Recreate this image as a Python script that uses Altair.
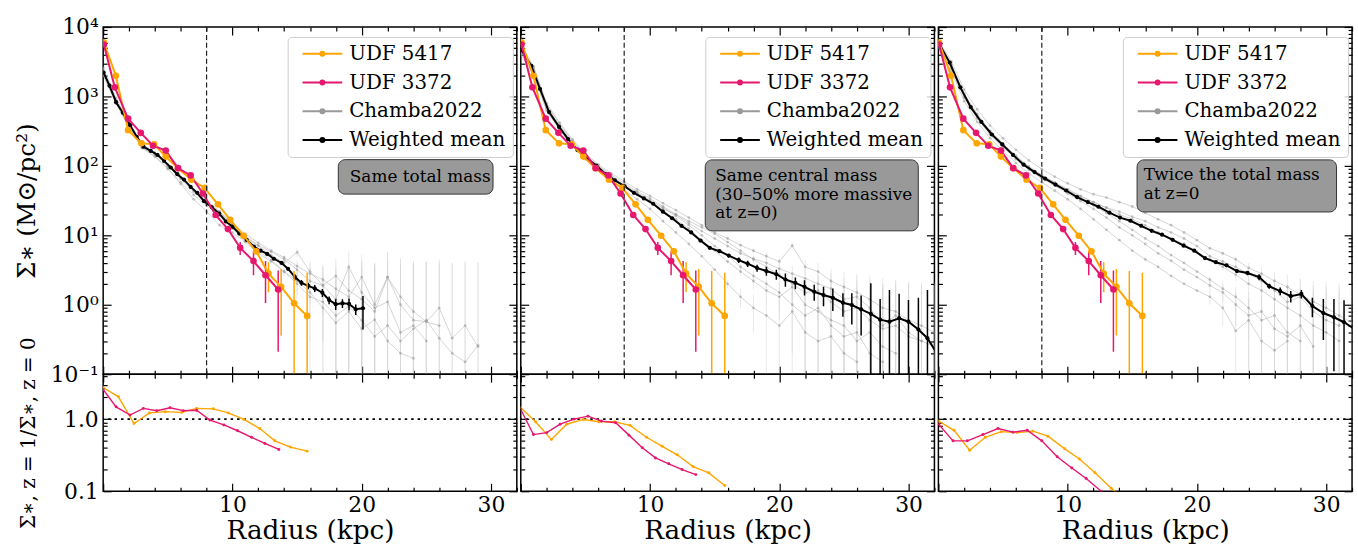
import altair as alt
import pandas as pd

FONT = "DejaVu Serif"
ORANGE = "#FFA500"
PINK = "#E6176F"

SERIES = ["UDF 5417", "UDF 3372", "Chamba2022", "Weighted mean"]
SERIES_COLORS = [ORANGE, PINK, "#999999", "black"]

# ---------------- z=1 galaxies (same in every panel) ----------------
udf5417_r = [0.05, 0.98, 1.93, 2.96, 3.94, 4.84, 5.79, 6.82, 7.85, 8.88, 9.83, 10.86, 11.84, 12.79, 13.77, 14.77, 15.78]
udf5417_s = [6000, 1980, 327, 211, 204, 136, 92.7, 63.3, 48.2, 27.9, 16.7, 9.87, 5.9, 2.81, 1.81, 1.05, 0.69]
udf5417_err = [0, 0, 0, 0, 0, 0, 0, 0, 0, 0, 0, 0.3, 0.6, 1.3, 1.45, 2.0, 2.2]

udf3372_r = [0.05, 0.90, 1.93, 2.91, 3.86, 4.84, 5.79, 6.77, 7.72, 8.70, 9.65, 10.6, 11.63, 12.56, 13.54]
udf3372_s = [5600, 1352, 479, 299, 195, 166, 92.7, 72.9, 40.0, 19.6, 12.3, 6.6, 4.25, 2.66, 1.66]
udf3372_err = [0, 0, 0, 0, 0, 0, 0, 0, 0, 0, 0.5, 1.4, 1.6, 1.6, 1.45]

# ---------------- weighted mean of the z=0 samples ----------------
mean1_r = [0.03, 0.49, 1.0, 1.52, 2.08, 2.6, 3.11, 3.68, 4.2, 4.71, 5.23, 5.74, 6.25, 6.77, 7.28, 7.8, 8.4, 8.98, 9.5, 10.01,
           10.53, 11.1, 11.66, 12.18, 12.69, 13.2, 13.8, 14.3, 14.83, 15.34, 15.86, 16.37, 16.96, 17.48, 17.99, 18.51, 19.02, 19.54, 20.1]
mean1_s = [2213, 1429, 826, 582, 385, 262, 189, 164, 144, 118, 94.8, 76, 63.4, 49.8, 40.9, 31, 25.5, 20.5, 15.8, 13.3,
           10.6, 8.6, 6.9, 6.0, 5.4, 4.6, 4.0, 3.3, 2.5, 2.07, 1.87, 1.72, 1.49, 1.17, 1.02, 1.05, 1.03, 0.86, 0.89]
mean1_err = [0, 0, 0, 0, 0, 0, 0, 0, 0, 0, 0, 0, 0, 0, 0, 0, 0, 0, 0, 0,
             0, 0, 0, 0, 0, 0.2, 0.2, 0.2, 0.25, 0.2, 0.2, 0.2, 0.2, 0.15, 0.18, 0.15, 0.2, 0.15, 0.45]

mean2_r = [0.03, 0.82, 1.49, 2.19, 2.96, 3.66, 4.38, 5.1, 5.84, 6.56, 7.28, 8.03, 8.75, 9.52, 10.24, 10.99, 11.71, 12.43, 13.18,
           13.9, 14.62, 15.37, 16.09, 16.86, 17.55, 18.28, 19.0, 19.77, 20.47, 21.24, 21.95, 22.7, 23.42, 24.14, 24.92, 25.61,
           26.33, 27.08, 27.8, 28.52, 29.27, 29.99, 30.76, 31.46, 32.18]
mean2_s = [4700, 2750, 1280, 596, 364, 243, 169, 129, 101, 76, 62, 50.9, 40.9, 34, 28.5, 21.9, 17.6, 13.7, 11.0,
           8.4, 6.6, 5.9, 5.1, 4.4, 3.9, 3.38, 3.06, 2.75, 2.31, 2.07, 1.81, 1.54, 1.38, 1.26, 1.07, 0.99,
           0.86, 0.74, 0.61, 0.57, 0.64, 0.57, 0.44, 0.33, 0.20]
mean2_err = [0, 0, 0, 0, 0, 0, 0, 0, 0, 0, 0, 0, 0, 0, 0, 0, 0, 0, 0,
             0.3, 0.3, 0.3, 0.3, 0.4, 0.4, 0.4, 0.45, 0.45, 0.5, 0.4, 0.45, 0.4, 0.43, 0.45, 0.4, 0.47,
             0.5, 1.3, 0.6, 1.06, 0.8, 0.6, 0.82, 1.3, 1.0]

mean3_r = [0.02, 0.875, 1.70, 2.50, 3.32, 4.14, 4.94, 5.77, 6.59, 7.44, 8.26, 9.06, 9.88, 10.73, 11.56, 12.38, 13.23, 14.05,
           14.85, 15.68, 16.5, 17.3, 18.12, 18.97, 19.79, 20.62, 21.47, 22.29, 23.09, 23.91, 24.81, 25.59, 26.44, 27.26,
           28.08, 28.93, 29.78, 30.6, 31.38, 32.15]
mean3_s = [5910, 3070, 1352, 702, 429, 283, 204, 144, 104, 81.4, 65.5, 53.8, 44.2, 35.5, 30.1, 25.8, 21.2, 18.0,
           16.2, 13.7, 11.6, 10.2, 8.6, 7.1, 6.0, 4.7, 4.1, 3.7, 3.06, 2.87, 2.5, 1.85, 1.57, 1.33,
           1.43, 0.96, 0.76, 0.66, 0.56, 0.45]
mean3_err = [0, 0, 0, 0, 0, 0, 0, 0, 0, 0, 0, 0, 0, 0, 0, 0, 0, 0,
             0, 0, 0, 0, 0, 0, 0, 0, 0.15, 0.15, 0.2, 0.2, 0.25, 0.15, 0.2, 0.25,
             0.2, 0.3, 0.45, 0.55, 0.6, 0.6]

# ---------------- Chamba2022 individual profiles (radius = 0, 1, 2, ... kpc) ----------------
chamba1 = [
    [2300, 880, 400, 200, 150, 98, 66, 44, 31, 22, 14, 9.5, 7.0, 5.2, 4.0, 5.7, 3.0, 1.9, 2.6, 1.6, 1.2, 0.8, 2.5, 1.0, 0.6, 0.57, 0.9, 0.33, 0.5, 0.25],
    [2100, 800, 370, 185, 140, 92, 55, 33, 22, 14, 11, 8.0, 5.5, 4.2, 3.0, 2.2, 1.5, 0.9, 0.55, 0.8, 0.45, 0.61, 0.3, 0.2, 0.17],
    [2500, 860, 390, 195, 150, 100, 65, 42, 28, 21, 14.5, 9.8, 7.2, 5.8, 4.5, 3.2, 2.2, 1.9, 1.2, 3.5, 1.5, 0.9, 1.1, 0.4, 0.5, 0.3],
    [2000, 780, 360, 180, 135, 90, 58, 38, 27, 19, 12.5, 8.2, 6.0, 4.4, 3.0, 2.0, 1.3, 1.1, 0.7, 0.95, 0.6, 0.35, 0.5, 0.3, 0.45, 0.6, 0.33, 0.2, 0.15, 0.26],
    [2600, 950, 430, 210, 155, 104, 68, 45, 32, 22, 15, 10.5, 7.8, 6.0, 4.8, 3.6, 2.8, 2.3, 1.7, 1.3, 2.5, 1.0, 2.5, 1.3, 0.8, 0.57, 0.5],
]
chamba1_err = [0, 0, 0, 0, 0, 0, 0, 0, 0, 0, 0, 0, 0, 0, 0.4, 0.8, 1.2, 1.6, 2.0, 2.4, 2.8, 3.0, 3.2, 3.4, 3.5, 3.6, 3.6, 3.7, 3.8, 3.8]

chamba2 = [
    [5200, 2600, 800, 420, 240, 150, 105, 78, 60, 46, 37, 29, 23, 18, 14, 11, 9.0, 7.2, 6.0, 5.0, 4.2, 7.1, 3.5, 3.0, 2.2, 1.8, 1.5, 1.2, 0.9, 0.8, 0.6, 0.5, 0.4],
    [4500, 2100, 650, 380, 220, 140, 100, 74, 56, 43, 34, 26, 20, 15, 11.5, 9.0, 7.0, 5.5, 4.6, 4.0, 3.3, 2.8, 2.4, 2.0, 1.7, 1.2, 1.3, 0.9, 0.5, 0.7, 0.4, 0.3],
    [4000, 2000, 620, 330, 190, 125, 88, 62, 45, 33, 24, 16, 11, 7.5, 5.0, 3.2, 2.0, 1.3, 0.9, 0.7, 0.5, 0.8, 0.4, 0.3, 0.35, 0.2, 0.15],
    [4800, 2400, 720, 370, 210, 138, 96, 70, 52, 40, 31, 23, 17, 12.5, 8.5, 6.0, 4.2, 3.0, 2.2, 1.6, 1.3, 1.8, 1.0, 0.8, 0.6, 0.5, 0.3, 0.4, 0.25, 0.2],
    [5600, 2700, 760, 400, 230, 145, 98, 70, 53, 41, 32, 25, 19, 14, 10, 7.0, 5.2, 3.5, 2.6, 2.0, 1.5, 1.0, 0.7, 0.9, 0.5, 0.35, 0.4, 0.2, 0.15],
    [4200, 2200, 690, 350, 200, 130, 92, 66, 50, 39, 30, 24, 20, 16, 13, 10.5, 8.0, 6.0, 4.5, 3.5, 2.7, 2.0, 1.5, 1.6, 1.1, 0.8, 0.9, 0.6, 0.45, 0.5, 0.35, 0.3, 0.25],
]
chamba2_err = [0, 0, 0, 0, 0, 0, 0, 0, 0, 0, 0, 0, 0, 0, 0, 0, 0.3, 0.4, 0.5, 0.6, 0.7, 0.8, 0.9, 1.0, 1.1, 1.2, 1.3, 1.4, 1.5, 1.5, 1.6, 1.6, 1.7]

chamba3 = [
    [6500, 3200, 1250, 650, 380, 250, 170, 120, 90, 70, 56, 46, 39, 35, 30, 26, 21, 17, 14, 11, 8.5, 6.5, 5.5, 4.5, 3.4, 2.8, 2.2, 1.8, 1.4, 1.1, 0.9, 0.7, 0.55],
    [5000, 2300, 850, 430, 250, 165, 110, 78, 58, 44, 33, 24, 17, 12, 8.5, 6.0, 4.5, 3.5, 2.6, 2.0, 1.6, 1.3, 0.9, 0.42, 0.6, 0.3, 0.22, 0.3],
    [6200, 2900, 1100, 560, 320, 210, 140, 98, 74, 58, 46, 37, 30, 25, 20, 17, 14, 11, 9, 7.5, 5.8, 4.5, 3.5, 2.7, 2.0, 1.6, 1.2, 0.9, 0.7, 0.5, 0.4, 0.3],
    [5600, 2500, 950, 480, 280, 185, 125, 88, 66, 52, 40, 31, 24, 18, 13, 10, 7.5, 5.5, 4.3, 3.2, 2.5, 1.9, 1.5, 1.0, 0.7, 0.8, 0.45, 0.35, 0.5, 0.25],
    [6000, 2800, 1050, 540, 310, 205, 135, 95, 72, 57, 45, 36, 30, 25, 22, 18.5, 16, 13, 11, 9, 7.0, 5.0, 4.2, 3.5, 2.8, 2.2, 1.6, 1.1, 1.3, 0.8, 0.6, 0.5],
    [5300, 2600, 1000, 500, 290, 190, 128, 90, 68, 53, 42, 33, 27, 21, 16, 12, 9, 7.0, 5.2, 4.0, 3.0, 2.3, 1.7, 1.3, 0.9, 0.6, 0.7, 0.4, 0.3],
]
chamba3_err = [0, 0, 0, 0, 0, 0, 0, 0, 0, 0, 0, 0, 0, 0, 0, 0, 0, 0, 0, 0, 0, 0.3, 0.4, 0.5, 0.6, 0.7, 0.8, 0.9, 1.0, 1.1, 1.2, 1.3, 1.4]

# ---------------- ratio z=1 / z=0 ----------------
ratio1_5417_r = [0.0, 1.18, 2.39, 3.58, 4.79, 6.07, 7.23, 8.52, 9.68, 10.89, 12.12, 13.28, 14.49, 15.78]
ratio1_5417 = [2.74, 2.04, 0.87, 1.22, 1.27, 1.24, 1.41, 1.39, 1.22, 0.99, 0.74, 0.50, 0.41, 0.36]
ratio1_3372_r = [0.0, 1.0, 2.08, 3.11, 4.15, 5.17, 6.2, 7.23, 8.26, 9.34, 10.4, 11.48, 12.51, 13.59]
ratio1_3372 = [2.58, 1.48, 1.14, 1.41, 1.31, 1.44, 1.31, 1.33, 0.97, 0.83, 0.69, 0.56, 0.46, 0.38]

ratio2_5417_r = [0.0, 1.16, 2.37, 3.55, 4.84, 6.05, 7.26, 8.44, 9.73, 10.94, 12.1, 13.33, 14.54, 15.78]
ratio2_5417 = [1.44, 0.91, 0.52, 0.85, 0.99, 0.92, 0.92, 0.82, 0.56, 0.42, 0.32, 0.22, 0.18, 0.12]
ratio2_3372_r = [0.0, 0.98, 2.01, 3.04, 4.12, 5.2, 6.23, 7.34, 8.37, 9.4, 10.42, 11.45, 12.48, 13.54]
ratio2_3372 = [1.36, 0.61, 0.65, 0.85, 1.0, 1.10, 0.94, 0.89, 0.60, 0.40, 0.29, 0.24, 0.20, 0.17]

ratio3_5417_r = [0.02, 1.21, 2.42, 3.63, 4.86, 6.1, 7.31, 8.47, 9.76, 10.91, 12.12, 13.36, 14.6, 15.8]
ratio3_5417 = [0.94, 0.70, 0.37, 0.56, 0.67, 0.65, 0.68, 0.58, 0.39, 0.28, 0.18, 0.11, 0.075, 0.05]
ratio3_3372_r = [0.02, 1.13, 2.24, 3.45, 4.61, 5.77, 6.87, 8.0, 9.19, 10.32, 11.43, 12.59, 13.6]
ratio3_3372 = [0.85, 0.50, 0.50, 0.61, 0.74, 0.66, 0.70, 0.50, 0.30, 0.21, 0.15, 0.10, 0.075]

reference_radius = [8.0]
notes = ["Same total mass",
         "Same central mass\n(30\u201350% more massive\n\u2002at z=0)",
         "Twice the total mass\n\u2002at z=0"]

# ---------------- layout / styling ----------------
W, H_TOP, H_BOT = 417, 350, 118
XS = alt.Scale(domain=[0, 32], nice=False, zero=False)
YS_TOP = alt.Scale(type="log", domain=[0.1, 10000], nice=False)
YS_BOT = alt.Scale(type="log", domain=[0.1, 4.2], nice=False)
CS = alt.Scale(domain=SERIES, range=SERIES_COLORS)

X_TICKS = list(range(0, 33, 2))
Y_TICKS_TOP = [k * 10.0 ** p for p in range(-1, 4) for k in range(1, 10)] + [10000.0]
Y_TICKS_BOT = [k / 10 for k in range(1, 10)] + [1.0, 2.0, 3.0, 4.0]
MAJOR_X = "datum.value % 10 === 0"
MAJOR_LOG = "abs(log(datum.value)/LN10 - round(log(datum.value)/LN10)) < 0.001"

LEG_PATH = "M-4,0L4,0M0.4,0A0.4,0.4,0,1,1,-0.4,0A0.4,0.4,0,1,1,0.4,0Z"


def tick_axis(orient, offset, values, test):
    return alt.Axis(orient=orient, offset=offset, values=values, labels=False, domain=False,
                    grid=False, title=None, tickColor="black", tickWidth=1.2,
                    tickSize={"condition": {"test": test, "value": 8}, "value": 4})


def axis_layers(yscale, yvalues, h, xlabel_axis, ylabel_axis):
    dummy = pd.DataFrame({"r": [16.0], "s": [1.0]})
    base = alt.Chart(dummy).mark_point(opacity=0)
    la = base.encode(x=alt.X("r:Q", scale=XS, axis=xlabel_axis),
                     y=alt.Y("s:Q", scale=yscale, axis=ylabel_axis))
    lb = base.encode(x=alt.X("r:Q", scale=XS, axis=tick_axis("bottom", -h, X_TICKS, MAJOR_X)),
                     y=alt.Y("s:Q", scale=yscale, axis=tick_axis("right", -W, yvalues, MAJOR_LOG)))
    lc = base.encode(x=alt.X("r:Q", scale=XS, axis=tick_axis("top", -h, X_TICKS, MAJOR_X)),
                     y=alt.Y("s:Q", scale=yscale, axis=tick_axis("left", -W, yvalues, MAJOR_LOG)))
    return [la, lb, lc]


def err_frame(r, s, e, series):
    n = min(len(r), len(s), len(e))
    df = pd.DataFrame({"r": r[:n], "s": s[:n], "e": e[:n]})
    df["lo"] = (df.s - df.e).clip(lower=1e-3)
    df["hi"] = df.s + df.e
    df["series"] = series
    return df


LEGEND = alt.Legend(title=None, orient="none", legendX=186, legendY=10, direction="vertical",
                    symbolType=LEG_PATH, symbolSize=100, symbolStrokeWidth=2, symbolOffset=18,
                    labelOffset=17, labelFont=FONT, labelFontSize=20, labelColor="black",
                    labelLimit=400, rowPadding=9, padding=7, fillColor="rgba(255,255,255,0.8)",
                    strokeColor="#cccccc", cornerRadius=4, symbolOpacity=1)


def top_panel(mr, ms, me, chamba, chamba_err, note, box, text_pos, show_ylab):
    X = alt.X("r:Q", scale=XS, axis=None)
    Y = alt.Y("s:Q", scale=YS_TOP, axis=None)
    C = alt.Color("series:N", scale=CS, legend=None)

    rows = []
    for gid, prof in enumerate(chamba):
        for k, v in enumerate(prof):
            e = chamba_err[k] if k < len(chamba_err) else chamba_err[-1]
            rows.append({"gid": gid, "r": float(k), "s": v, "e": e})
    grey = pd.DataFrame(rows)
    grey["lo"] = (grey.s - grey.e).clip(lower=1e-3)
    grey["hi"] = grey.s + grey.e
    grey["series"] = "Chamba2022"

    black = err_frame(mr, ms, me, "Weighted mean")
    udf = pd.concat([err_frame(udf5417_r, udf5417_s, udf5417_err, "UDF 5417"),
                     err_frame(udf3372_r, udf3372_s, udf3372_err, "UDF 3372")])

    g_err = alt.Chart(grey).transform_filter("datum.e > 0").mark_rule(
        clip=True, color="#d4d4d4", opacity=0.5, strokeWidth=1).encode(
        x=X, y=alt.Y("lo:Q", scale=YS_TOP, axis=None), y2="hi:Q")
    g_line = alt.Chart(grey).mark_line(clip=True, color="#aaaaaa", opacity=0.5, strokeWidth=1).encode(
        x=X, y=Y, detail="gid:N")
    g_pts = alt.Chart(grey).mark_circle(clip=True, color="#999999", opacity=0.55, size=8).encode(x=X, y=Y)

    b_err = alt.Chart(black).transform_filter("datum.e > 0").mark_rule(
        clip=True, color="black", strokeWidth=1.5).encode(
        x=X, y=alt.Y("lo:Q", scale=YS_TOP, axis=None), y2="hi:Q")
    b_line = alt.Chart(black).mark_line(clip=True, strokeWidth=2).encode(
        x=X, y=Y, color=alt.Color("series:N", scale=CS, legend=LEGEND))
    b_pts = alt.Chart(black).mark_circle(clip=True, size=18, opacity=1).encode(x=X, y=Y, color=C)

    u_err = alt.Chart(udf).transform_filter("datum.e > 0").mark_rule(
        clip=True, strokeWidth=1.5).encode(
        x=X, y=alt.Y("lo:Q", scale=YS_TOP, axis=None), y2="hi:Q", color=C)
    u_line = alt.Chart(udf).mark_line(clip=True, strokeWidth=2).encode(x=X, y=Y, color=C, detail="series:N")
    u_pts = alt.Chart(udf).mark_circle(clip=True, size=45, opacity=1).encode(x=X, y=Y, color=C)

    ref = alt.Chart(pd.DataFrame({"r": reference_radius})).mark_rule(
        color="#222222", strokeDash=[5, 3], strokeWidth=1.2).encode(x=X)

    note_df = pd.DataFrame({"note": [note]})
    n_box = alt.Chart(note_df).mark_rect(cornerRadius=7, fill="#999999", stroke="#333333", strokeWidth=1).encode(
        x=alt.X(datum=box[0], scale=XS, axis=None), x2=alt.X2(datum=box[1]),
        y=alt.Y(datum=box[2], scale=YS_TOP, axis=None), y2=alt.Y2(datum=box[3]))
    n_txt = alt.Chart(note_df).mark_text(align="left", baseline="middle", font=FONT, fontSize=17,
                                         lineBreak="\n", lineHeight=18.5, color="black").encode(
        x=alt.X(datum=text_pos[0], scale=XS, axis=None),
        y=alt.Y(datum=text_pos[1], scale=YS_TOP, axis=None), text="note:N")

    ylab = None
    if show_ylab:
        ylab = alt.Axis(orient="left", values=[0.1, 1, 10, 100, 1000, 10000],
                        labelExpr="'10' + ['\u207b\u00b9','\u2070','\u00b9','\u00b2','\u00b3','\u2074'][round(log(datum.value)/LN10)+1]",
                        ticks=False, domain=False, grid=False, labelPadding=5, labelFontSize=22,
                        labelOverlap=False, title="\u03a3\u2217 (M\u2299/pc\u00b2)", titleFontSize=25,
                        titlePadding=11, titleLimit=600)
    axes = axis_layers(YS_TOP, Y_TICKS_TOP, H_TOP, None, ylab)
    return alt.layer(g_err, g_line, g_pts, b_err, b_line, b_pts, u_err, u_line, u_pts, ref, n_box, n_txt,
                     *axes).resolve_axis(x="independent", y="independent").properties(width=W, height=H_TOP)


def bottom_panel(r5, v5, r3, v3, show_ylab):
    X = alt.X("r:Q", scale=XS, axis=None)
    Y = alt.Y("v:Q", scale=YS_BOT, axis=None)
    d5 = pd.DataFrame({"r": r5, "v": v5})
    d3 = pd.DataFrame({"r": r3, "v": v3})
    one = alt.Chart(pd.DataFrame({"v": [1.0]})).mark_rule(
        color="black", strokeDash=[2.5, 4], strokeWidth=2).encode(y=Y)
    layers = [one]
    for d, col in ((d5, ORANGE), (d3, PINK)):
        layers.append(alt.Chart(d).mark_line(clip=True, color=col, strokeWidth=1.4).encode(x=X, y=Y))
        layers.append(alt.Chart(d).mark_circle(clip=True, color=col, size=9, opacity=1).encode(x=X, y=Y))
    xlab = alt.Axis(orient="bottom", values=[10, 20, 30], format="d", ticks=False, domain=False, grid=False,
                    labelPadding=3, labelFontSize=22, title="Radius (kpc)", titleFontSize=26.5, titlePadding=3)
    ylab = None
    if show_ylab:
        ylab = alt.Axis(orient="left", values=[0.1, 1.0], format=".1f", ticks=False, domain=False, grid=False,
                        labelPadding=5, labelFontSize=22, labelOverlap=False,
                        title="\u03a3\u2217, z = 1/\u03a3\u2217, z = 0", titleFontSize=20, titlePadding=25,
                        titleLimit=600)
    axes = axis_layers(YS_BOT, Y_TICKS_BOT, H_BOT, xlab, ylab)
    return alt.layer(*layers, *axes).resolve_axis(x="independent", y="independent").properties(width=W, height=H_BOT)


tops = [
    top_panel(mean1_r, mean1_s, mean1_err, chamba1, chamba1_err, notes[0],
              (18.19, 30.16, 123, 39.2), (19.08, 69.5), True),
    top_panel(mean2_r, mean2_s, mean2_err, chamba2, chamba2_err, notes[1],
              (14.27, 30.75, 122, 11.6), (15.04, 70.7), False),
    top_panel(mean3_r, mean3_s, mean3_err, chamba3, chamba3_err, notes[2],
              (15.37, 30.8, 122, 21.7), (15.88, 72.9), False),
]
bottoms = [
    bottom_panel(ratio1_5417_r, ratio1_5417, ratio1_3372_r, ratio1_3372, True),
    bottom_panel(ratio2_5417_r, ratio2_5417, ratio2_3372_r, ratio2_3372, False),
    bottom_panel(ratio3_5417_r, ratio3_5417, ratio3_3372_r, ratio3_3372, False),
]

columns = [alt.vconcat(t, b, spacing=0, bounds="flush").resolve_scale(color="independent").resolve_legend(color="independent")
           for t, b in zip(tops, bottoms)]

chart = alt.hconcat(*columns, spacing=0).resolve_scale(color="independent").properties(
    padding={"left": 13, "top": 13, "right": 4, "bottom": 0}
).configure(font=FONT, background="white").configure_view(
    stroke="black", strokeWidth=1.5
).configure_axis(
    labelFont=FONT, labelColor="black", titleFont=FONT, titleColor="black", titleFontWeight="normal"
)

chart.save("out.html", embed_options={"renderer": "svg", "actions": False})
